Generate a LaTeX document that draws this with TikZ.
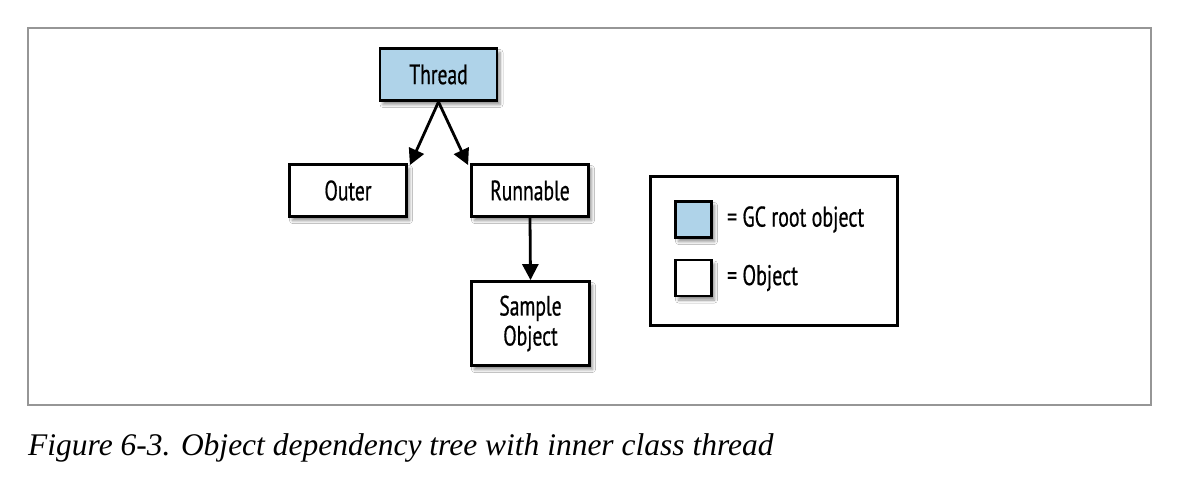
\documentclass[tikz,border=0pt]{standalone}
\usepackage{fontspec}
\newfontfamily\lab[FakeStretch=0.70,FakeBold=0.6]{PT Sans}
\newfontfamily\capfont{Liberation Serif}
\usetikzlibrary{arrows.meta,shadows.blur}
\definecolor{gcblue}{RGB}{175,211,233}
\definecolor{framegray}{RGB}{150,150,150}
\tikzset{
  obj/.style={draw=black, line width=2.8pt, fill=white, rectangle, align=center,
    font=\lab\fontsize{28}{30}\selectfont,
    blur shadow={shadow xshift=3pt, shadow yshift=-4pt, shadow blur steps=6, shadow blur radius=3pt, shadow opacity=45}},
  root/.style={obj, fill=gcblue},
  arr/.style={line width=2.8pt, -{Triangle[length=16pt,width=16pt]}},
  legtext/.style={anchor=west, inner sep=0pt, font=\lab\fontsize{28.5}{30}\selectfont}
}
\begin{document}
\begin{tikzpicture}[x=1pt,y=-1pt]
\useasboundingbox (0,0) rectangle (1192,486);
\fill[white] (0,0) rectangle (1192,486);
\draw[framegray, line width=1.5pt] (28,28) rectangle (1151,405);

\node[root, minimum width=117pt, minimum height=52pt] (thread) at (438.5,74.5) {Thread};
\node[obj, minimum width=117pt, minimum height=52pt] (outer) at (348,190.5) {Outer};
\node[obj, minimum width=117pt, minimum height=52pt] (run) at (530,190.5) {Runnable};
\node[obj, minimum width=118pt, minimum height=84pt] (sample) at (530.5,323.5) {Sample\\Object};

\draw[arr] (thread.south) -- ([xshift=2pt,yshift=-2pt]outer.north east);
\draw[arr] (thread.south) -- ([xshift=-2pt,yshift=-2pt]run.north west);
\draw[arr] (run.south) -- (sample.north);

\node[draw=black, line width=2.8pt, minimum width=247pt, minimum height=149pt] (legend) at (774,251) {};
\node[root, minimum width=36pt, minimum height=36pt] (lroot) at (693.5,219.5) {};
\node[obj, minimum width=36pt, minimum height=36pt] (lobj) at (693.5,278) {};
\node[legtext] (troot) at ([xshift=14pt]lroot.east) {= GC root object};
\node[legtext] (tobj) at ([xshift=14pt]lobj.east) {= Object};

\node[anchor=base west, inner sep=0pt, font=\capfont\itshape\fontsize{31.5}{36}\selectfont] (cap) at (28,455) {Figure 6-3. Object dependency tree with inner class thread};
\end{tikzpicture}
\end{document}
